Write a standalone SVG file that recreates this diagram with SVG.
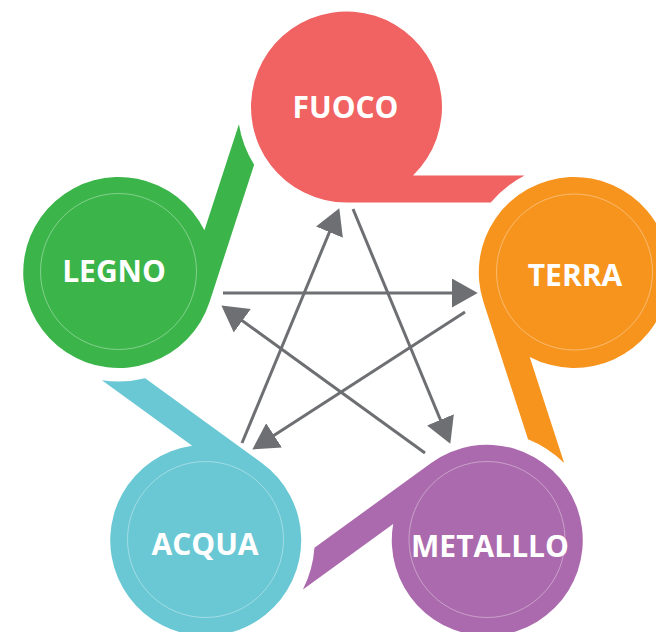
<svg xmlns="http://www.w3.org/2000/svg" xmlns:xlink="http://www.w3.org/1999/xlink" width="656" height="632" viewBox="0 0 656 632">
  <style>
    .lbl { font-family: "Open Sans", "Liberation Sans", sans-serif; font-weight: 700; font-size: 30px; fill: #ffffff; text-anchor: middle; }
    .inner { fill: none; stroke: #ffffff; stroke-width: 0.8; stroke-opacity: 0.45; }
    .arr { fill: none; stroke: #6D6F72; stroke-width: 3; marker-end: url(#head); }
  </style>
  <defs>
    <path id="drop" d="M 346.5 202.5 L 490.75 202.5 A 109 109 0 0 1 524.58 175.5 L 413.04 175.5 A 95.5 95.5 0 1 0 346.5 202.5 Z"/>
    <marker id="head" markerUnits="userSpaceOnUse" markerWidth="26" markerHeight="29" viewBox="0 0 24 27" refX="14" refY="13.5" orient="auto">
      <path d="M0,0 L24,13.5 L0,27 Z" fill="#6D6F72"/>
    </marker>
  </defs>
  <rect width="656" height="632" fill="#ffffff"/>

  <g id="fuoco">
    <use xlink:href="#drop" fill="#F06362"/>
    <text class="lbl" x="345.5" y="117.5">FUOCO</text>
  </g>
  <g id="terra">
    <use xlink:href="#drop" fill="#F7941E" transform="rotate(72 346.5 346.5)"/>
    <circle class="inner" cx="574.5" cy="272" r="78"/>
    <text class="lbl" x="575" y="286">TERRA</text>
  </g>
  <g id="metallo">
    <use xlink:href="#drop" fill="#AB6AAD" transform="rotate(144 346.5 346.5)"/>
    <circle class="inner" cx="487" cy="539.5" r="78"/>
    <text class="lbl" x="490" y="557">METALLLO</text>
  </g>
  <g id="acqua">
    <use xlink:href="#drop" fill="#6AC8D5" transform="rotate(216 346.5 346.5)"/>
    <circle class="inner" cx="205.5" cy="539.5" r="78"/>
    <text class="lbl" x="205" y="555">ACQUA</text>
  </g>
  <g id="legno">
    <use xlink:href="#drop" fill="#3BB54A" transform="rotate(288 346.5 346.5)"/>
    <circle class="inner" cx="118.5" cy="271.5" r="78"/>
    <text class="lbl" x="114" y="282">LEGNO</text>
  </g>

  <g id="connectors">
    <line class="arr" x1="223" y1="293" x2="467" y2="293"/>
    <line class="arr" x1="465" y1="312" x2="261.4" y2="443.6"/>
    <line class="arr" x1="242" y1="443" x2="335.2" y2="218.2"/>
    <line class="arr" x1="353" y1="209" x2="446.2" y2="433.8"/>
    <line class="arr" x1="425" y1="453" x2="230.1" y2="311.9"/>
  </g>
</svg>
